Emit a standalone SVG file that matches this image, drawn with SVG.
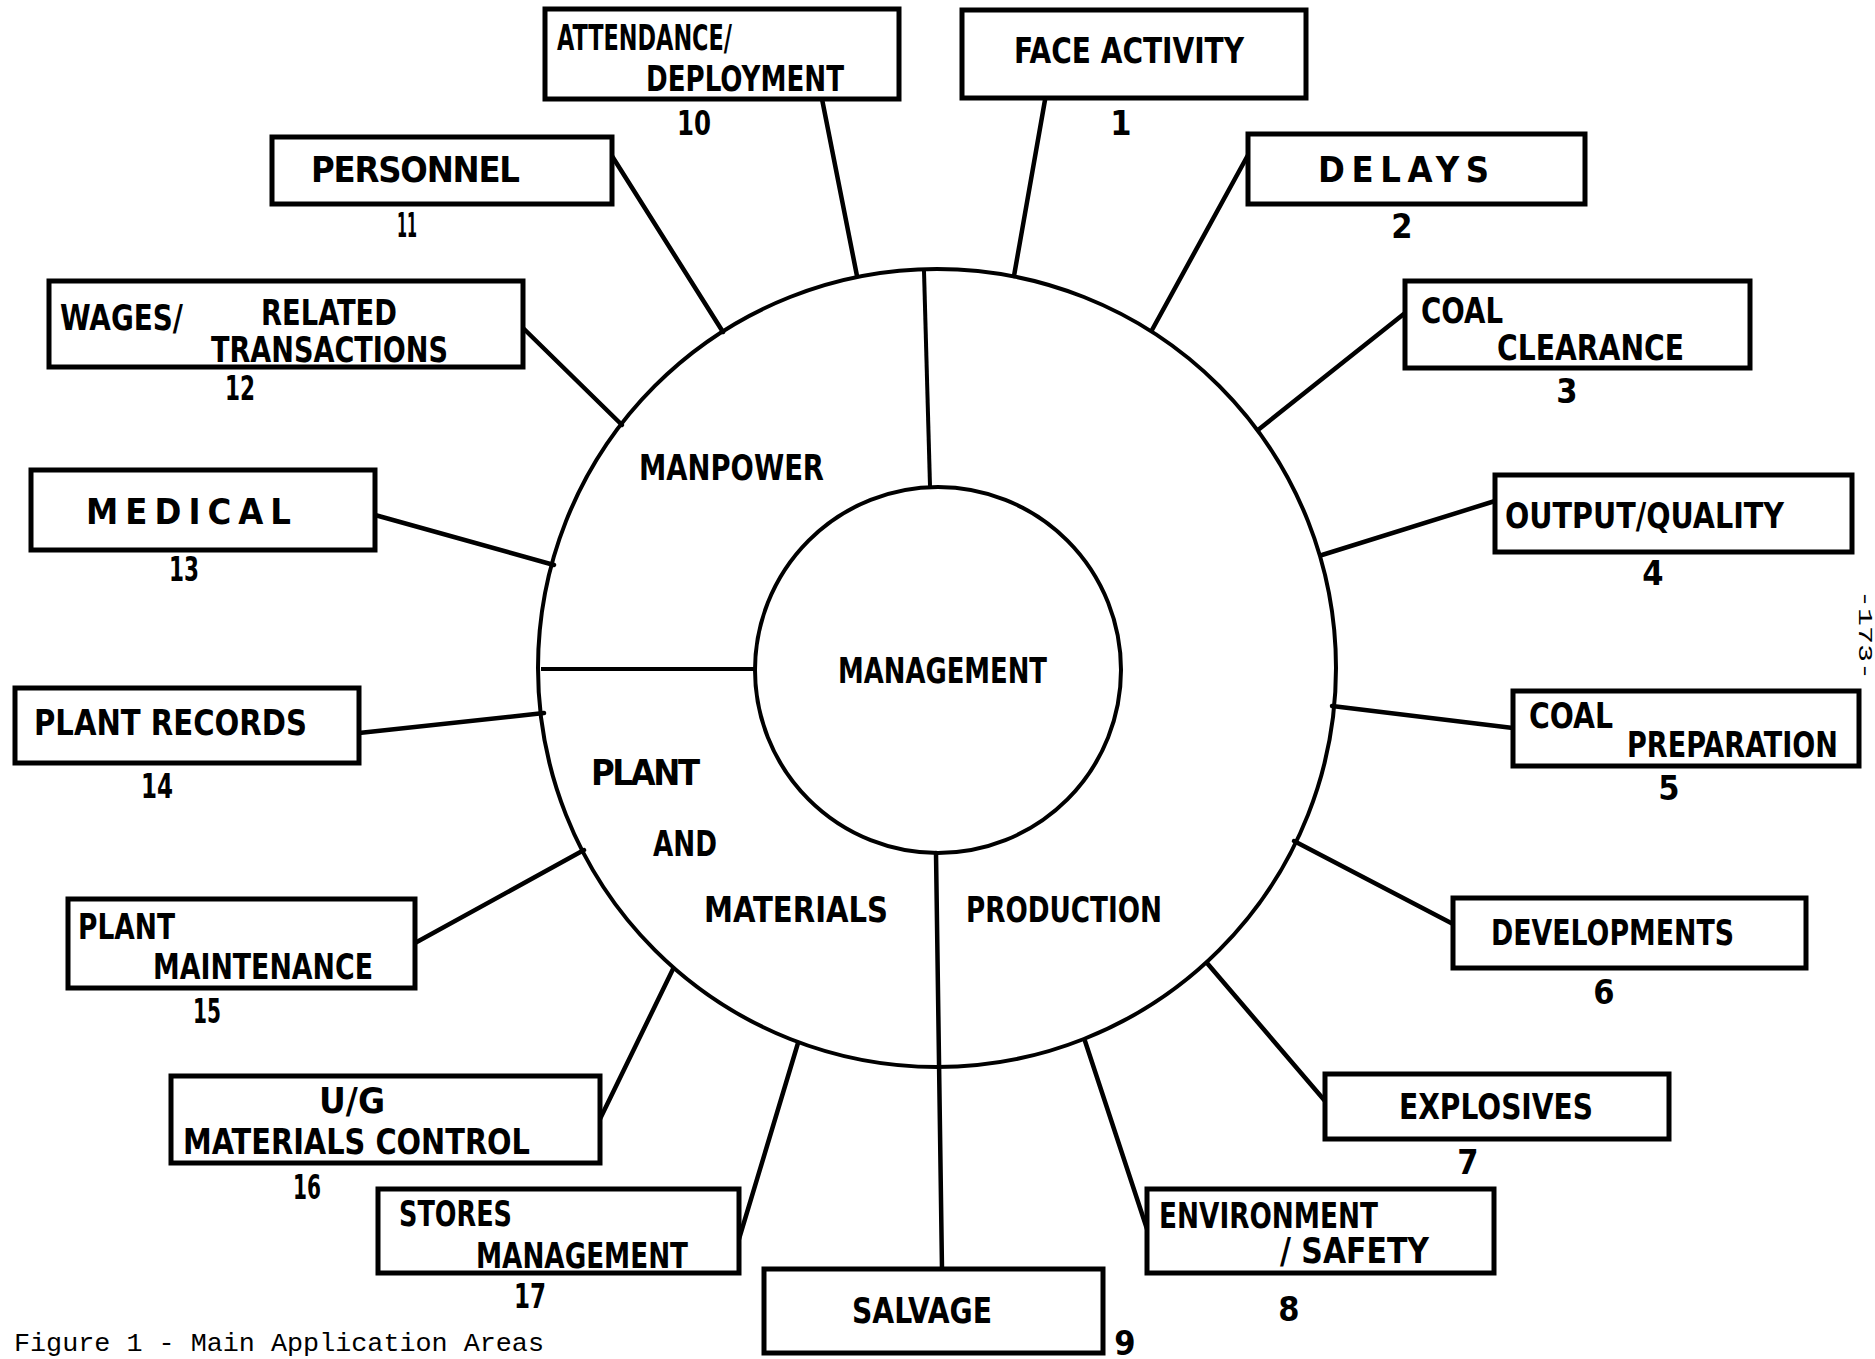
<svg xmlns="http://www.w3.org/2000/svg" width="1875" height="1359" viewBox="0 0 1875 1359">
<style>
.bg{fill:#fff}
.box{fill:#fff;stroke:#000;stroke-width:5}
.con{stroke:#000;stroke-width:4.5;stroke-linecap:round;fill:none}
.ring{fill:#fff;stroke:#000;stroke-width:4}
.div{stroke:#000;stroke-width:4;fill:none}
.t{font-family:"DejaVu Sans Condensed","DejaVu Sans",sans-serif;font-weight:bold;font-size:36px;fill:#000}
.n{font-family:"DejaVu Sans Condensed","DejaVu Sans",sans-serif;font-weight:bold;font-size:34px;fill:#000;text-anchor:middle}
.cap{font-family:"Liberation Mono","DejaVu Sans Mono",monospace;font-size:26px;fill:#000}
</style>
<rect class="bg" x="0" y="0" width="1875" height="1359"/>

<g id="hub">
<circle class="ring" cx="937" cy="668" r="399"/>
<line class="div" x1="924" y1="271" x2="930" y2="486"/>
<line class="div" x1="541" y1="669" x2="755" y2="669"/>
<circle class="ring" cx="938" cy="670" r="183"/>
<text class="t" x="639" y="480" textLength="185" lengthAdjust="spacingAndGlyphs">MANPOWER</text>
<text class="t" x="838" y="683" textLength="209" lengthAdjust="spacingAndGlyphs">MANAGEMENT</text>
<text class="t" x="591" y="785" textLength="109" lengthAdjust="spacing">PLANT</text>
<text class="t" x="653" y="856" textLength="64" lengthAdjust="spacingAndGlyphs">AND</text>
<text class="t" x="704" y="922" textLength="184" lengthAdjust="spacingAndGlyphs">MATERIALS</text>
<text class="t" x="966" y="922" textLength="196" lengthAdjust="spacingAndGlyphs">PRODUCTION</text>
</g>

<g id="connectors">
<line class="con" x1="1045" y1="100" x2="1014" y2="276"/>
<line class="con" x1="1248" y1="155" x2="1152" y2="330"/>
<line class="con" x1="1405" y1="313" x2="1258" y2="430"/>
<line class="con" x1="1495" y1="501" x2="1322" y2="555"/>
<line class="con" x1="1513" y1="728" x2="1332" y2="706"/>
<line class="con" x1="1453" y1="924" x2="1294" y2="841"/>
<line class="con" x1="1325" y1="1101" x2="1207" y2="963"/>
<line class="con" x1="1147" y1="1229" x2="1085" y2="1041"/>
<line class="con" x1="936" y1="853" x2="942" y2="1269"/>
<line class="con" x1="822" y1="99" x2="857" y2="276"/>
<line class="con" x1="612" y1="156" x2="723" y2="332"/>
<line class="con" x1="523" y1="328" x2="622" y2="425"/>
<line class="con" x1="375" y1="515" x2="554" y2="565"/>
<line class="con" x1="359" y1="733" x2="544" y2="713"/>
<line class="con" x1="415" y1="943" x2="584" y2="850"/>
<line class="con" x1="600" y1="1119" x2="673" y2="969"/>
<line class="con" x1="739" y1="1239" x2="798" y2="1043"/>
</g>

<g id="n1">
<rect class="box" x="962" y="10" width="344" height="88"/>
<text class="t" x="1014" y="63" textLength="230" lengthAdjust="spacingAndGlyphs">FACE ACTIVITY</text>
<text class="n" x="1121" y="135">1</text>
</g>
<g id="n2">
<rect class="box" x="1248" y="134" width="337" height="70"/>
<text class="t" x="1318" y="182" textLength="171" lengthAdjust="spacing">DELAYS</text>
<text class="n" x="1402" y="238">2</text>
</g>
<g id="n3">
<rect class="box" x="1405" y="281" width="345" height="87"/>
<text class="t" x="1421" y="323" textLength="82" lengthAdjust="spacingAndGlyphs">COAL</text>
<text class="t" x="1497" y="360" textLength="187" lengthAdjust="spacingAndGlyphs">CLEARANCE</text>
<text class="n" x="1567" y="403">3</text>
</g>
<g id="n4">
<rect class="box" x="1495" y="475" width="357" height="77"/>
<text class="t" x="1505" y="528" textLength="279" lengthAdjust="spacingAndGlyphs">OUTPUT/QUALITY</text>
<text class="n" x="1653" y="585">4</text>
</g>
<g id="n5">
<rect class="box" x="1513" y="691" width="346" height="75"/>
<text class="t" x="1529" y="728" textLength="84" lengthAdjust="spacingAndGlyphs">COAL</text>
<text class="t" x="1627" y="757" textLength="211" lengthAdjust="spacingAndGlyphs">PREPARATION</text>
<text class="n" x="1669" y="800">5</text>
</g>
<g id="n6">
<rect class="box" x="1453" y="898" width="353" height="70"/>
<text class="t" x="1491" y="945" textLength="243" lengthAdjust="spacingAndGlyphs">DEVELOPMENTS</text>
<text class="n" x="1604" y="1004">6</text>
</g>
<g id="n7">
<rect class="box" x="1325" y="1074" width="344" height="65"/>
<text class="t" x="1399" y="1119" textLength="194" lengthAdjust="spacingAndGlyphs">EXPLOSIVES</text>
<text class="n" x="1468" y="1174">7</text>
</g>
<g id="n8">
<rect class="box" x="1147" y="1189" width="347" height="84"/>
<text class="t" x="1159" y="1228" textLength="219" lengthAdjust="spacingAndGlyphs">ENVIRONMENT</text>
<text class="t" x="1280" y="1263" textLength="149" lengthAdjust="spacingAndGlyphs">/ SAFETY</text>
<text class="n" x="1289" y="1321">8</text>
</g>
<g id="n9">
<rect class="box" x="764" y="1269" width="339" height="84"/>
<text class="t" x="852" y="1323" textLength="140" lengthAdjust="spacingAndGlyphs">SALVAGE</text>
<text class="n" x="1125" y="1355">9</text>
</g>
<g id="n10">
<rect class="box" x="545" y="9" width="354" height="90"/>
<text class="t" x="557" y="50" textLength="175" lengthAdjust="spacingAndGlyphs">ATTENDANCE/</text>
<text class="t" x="646" y="91" textLength="198" lengthAdjust="spacingAndGlyphs">DEPLOYMENT</text>
<text class="n" x="694" y="135" textLength="34" lengthAdjust="spacingAndGlyphs">10</text>
</g>
<g id="n11">
<rect class="box" x="272" y="137" width="340" height="67"/>
<text class="t" x="311" y="182" textLength="209" lengthAdjust="spacing">PERSONNEL</text>
<text class="n" x="407" y="237" textLength="20" lengthAdjust="spacingAndGlyphs">11</text>
</g>
<g id="n12">
<rect class="box" x="49" y="281" width="474" height="86"/>
<text class="t" x="60" y="330" textLength="123" lengthAdjust="spacingAndGlyphs">WAGES/</text>
<text class="t" x="261" y="325" textLength="136" lengthAdjust="spacingAndGlyphs">RELATED</text>
<text class="t" x="211" y="362" textLength="237" lengthAdjust="spacingAndGlyphs">TRANSACTIONS</text>
<text class="n" x="240" y="400" textLength="30" lengthAdjust="spacingAndGlyphs">12</text>
</g>
<g id="n13">
<rect class="box" x="31" y="470" width="344" height="80"/>
<text class="t" x="86" y="524" textLength="205" lengthAdjust="spacing">MEDICAL</text>
<text class="n" x="184" y="581" textLength="30" lengthAdjust="spacingAndGlyphs">13</text>
</g>
<g id="n14">
<rect class="box" x="15" y="688" width="344" height="75"/>
<text class="t" x="34" y="735" textLength="273" lengthAdjust="spacingAndGlyphs">PLANT RECORDS</text>
<text class="n" x="157" y="798" textLength="32" lengthAdjust="spacingAndGlyphs">14</text>
</g>
<g id="n15">
<rect class="box" x="68" y="899" width="347" height="89"/>
<text class="t" x="78" y="939" textLength="97" lengthAdjust="spacingAndGlyphs">PLANT</text>
<text class="t" x="153" y="979" textLength="220" lengthAdjust="spacingAndGlyphs">MAINTENANCE</text>
<text class="n" x="207" y="1023" textLength="28" lengthAdjust="spacingAndGlyphs">15</text>
</g>
<g id="n16">
<rect class="box" x="171" y="1076" width="429" height="87"/>
<text class="t" x="319" y="1113" textLength="66" lengthAdjust="spacingAndGlyphs">U/G</text>
<text class="t" x="183" y="1154" textLength="347" lengthAdjust="spacingAndGlyphs">MATERIALS  CONTROL</text>
<text class="n" x="307" y="1199" textLength="28" lengthAdjust="spacingAndGlyphs">16</text>
</g>
<g id="n17">
<rect class="box" x="378" y="1189" width="361" height="84"/>
<text class="t" x="399" y="1226" textLength="113" lengthAdjust="spacingAndGlyphs">STORES</text>
<text class="t" x="476" y="1268" textLength="212" lengthAdjust="spacingAndGlyphs">MANAGEMENT</text>
<text class="n" x="530" y="1308" textLength="32" lengthAdjust="spacingAndGlyphs">17</text>
</g>

<text class="cap" x="14" y="1351" textLength="530" lengthAdjust="spacingAndGlyphs">Figure 1 - Main Application Areas</text>
<text class="cap" transform="translate(1859,590) rotate(90)" x="0" y="0" style="font-size:20px" textLength="90" lengthAdjust="spacingAndGlyphs">-173-</text>
</svg>
